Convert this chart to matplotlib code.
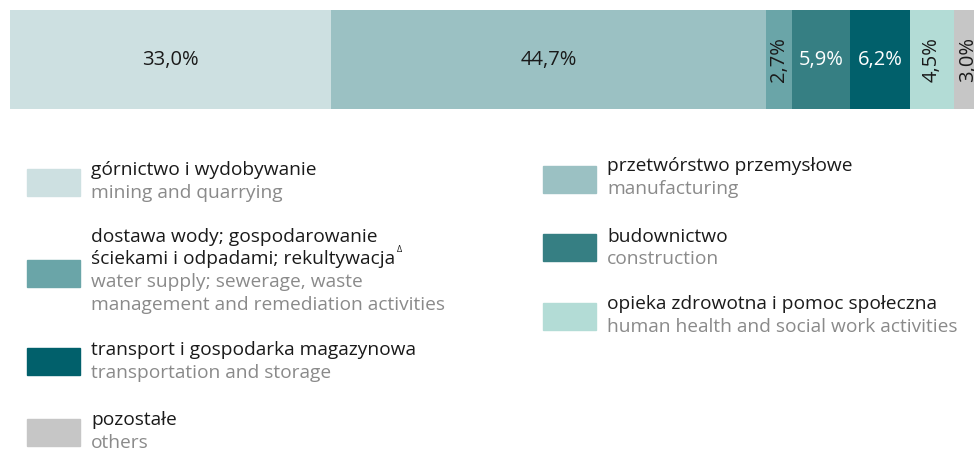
import matplotlib
matplotlib.use("Agg")
import matplotlib.pyplot as plt

plt.rcParams['font.family'] = ['Open Sans', 'DejaVu Sans']

# udział (%) wg sekcji
sections = ["mining", "manufacturing", "water", "construction", "transport", "health", "others"]
shares = [33.0, 44.7, 2.7, 5.9, 6.2, 4.5, 3.0]
colors = ["#cde0e1", "#9bc1c3", "#6aa5a8", "#367f83", "#01606b", "#b3dcd6", "#c6c6c6"]
label_white = [False, False, False, True, True, False, False]
label_vertical = [False, False, True, False, False, True, True]

legend_pl = ["górnictwo i wydobywanie",
             "przetwórstwo przemysłowe",
             "dostawa wody; gospodarowanie\nściekami i odpadami; rekultywacja",
             "budownictwo",
             "transport i gospodarka magazynowa",
             "opieka zdrowotna i pomoc społeczna",
             "pozostałe"]
legend_en = ["mining and quarrying",
             "manufacturing",
             "water supply; sewerage, waste\nmanagement and remediation activities",
             "construction",
             "transportation and storage",
             "human health and social work activities",
             "others"]

W, H = 974, 450
fig = plt.figure(figsize=(W / 100, H / 100), dpi=100)

# bar: px 10..983 wide, y 10..109
ax = fig.add_axes([10 / W, 1 - 109 / H, 973 / W, 99 / H])
left = 0
for s, c, wh, vert in zip(shares, colors, label_white, label_vertical):
    ax.barh(0, s, left=left, color=c, height=1, edgecolor="none")
    txt = f"{s:.1f}%".replace(".", ",")
    ax.text(left + s / 2, 0, txt, ha="center", va="center",
            rotation=90 if vert else 0, fontsize=14.5,
            color="white" if wh else "#1a1a1a")
    left += s
ax.set_xlim(0, 100)
ax.set_ylim(-0.5, 0.5)
ax.axis("off")

# legend, positions in pixels
def px(x, y):
    return x / W, 1 - y / H

# (swatch x, swatch top, text x, first line center y)
layout = [
    (27, 169, 91, 170),
    (543, 166, 607, 166),
    (27, 260, 91, 237),
    (543, 234, 607, 237),
    (27, 348, 91, 350),
    (543, 303, 607, 304),
    (27, 419, 91, 420),
]
line_h = 22.5
for i, (sx, sy, tx, ty) in enumerate(layout):
    fig.patches.append(plt.Rectangle(px(sx, sy + 27), 53 / W, 27 / H,
                                     transform=fig.transFigure, color=colors[i]))
    pl = legend_pl[i].split("\n")
    en = legend_en[i].split("\n")
    y = ty
    for k, line in enumerate(pl):
        t = fig.text(*px(tx, y), line, fontsize=13.8, color="#1a1a1a", va="center")
        if i == 2 and k == len(pl) - 1:
            ax.annotate("Δ", xy=(1, 0.8), xycoords=t, xytext=(1.5, 0),
                        textcoords="offset points", fontsize=6.5,
                        color="#1a1a1a", va="bottom", annotation_clip=False)
        y += line_h
    for line in en:
        fig.text(*px(tx, y), line, fontsize=13.8, color="#8a8a8a", va="center")
        y += line_h

fig.savefig("out.png", dpi=100)
